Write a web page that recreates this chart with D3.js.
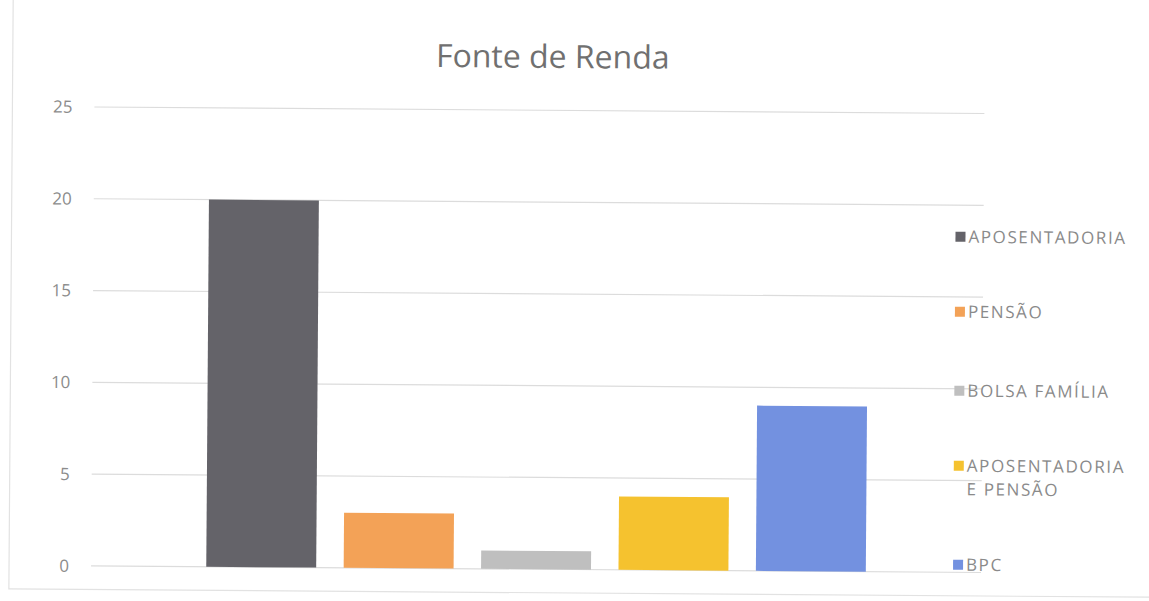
<!DOCTYPE html>
<html>
<head>
<meta charset="utf-8">
<script src="https://cdn.jsdelivr.net/npm/d3@7"></script>
<style>
  html, body { margin: 0; padding: 0; background: #ffffff; }
  svg { display: block; }
  text { font-family: "Open Sans", "Noto Sans", sans-serif; }
</style>
</head>
<body>
<svg id="chart" width="1149" height="601"></svg>
<script>
// Income sources and number of respondents per source
const categories = ["APOSENTADORIA", "PENSÃO", "BOLSA FAMÍLIA", "APOSENTADORIA E PENSÃO", "BPC"];
const values = [20, 3, 1, 4, 9];
const legendLines = [["APOSENTADORIA"], ["PENSÃO"], ["BOLSA FAMÍLIA"], ["APOSENTADORIA", "E PENSÃO"], ["BPC"]];
const yTicks = [0, 5, 10, 15, 20, 25];
const colors = ["#646369", "#f3a257", "#bfbfbf", "#f5c22f", "#7391e0"];
const title = "Fonte de Renda";

const svg = d3.select("#chart");
const W = 1149, H = 601;

// whole chart is turned a hair clockwise, as printed
const root = svg.append("g").attr("transform", `rotate(0.42 ${W / 2} ${H / 2})`);

// chart area outline
root.append("rect")
  .attr("x", 11).attr("y", -20)
  .attr("width", W + 20).attr("height", 613)
  .attr("fill", "none").attr("stroke", "#e2e2e2").attr("stroke-width", 1.2);

const plot = { left: 93, right: 983, top: 110.5, bottom: 569.5 };

const y = d3.scaleLinear().domain([0, 25]).range([plot.bottom, plot.top]);

// single category cluster: outer band for the group, inner band for each series
const x0 = d3.scaleBand().domain(["grupo"]).range([plot.left, plot.right]).paddingOuter(0.1477);
const x1 = d3.scaleBand().domain(categories)
  .range([x0("grupo"), x0("grupo") + x0.bandwidth()])
  .paddingInner(0.2).paddingOuter(0.1);

// gridlines
root.append("g")
  .selectAll("line")
  .data(yTicks)
  .join("line")
  .attr("x1", plot.left).attr("x2", plot.right)
  .attr("y1", d => y(d)).attr("y2", d => y(d))
  .attr("stroke", "#dcdcdc").attr("stroke-width", 1.2);

// y axis labels
const yAxis = d3.axisLeft(y).tickValues(yTicks).tickSize(0).tickPadding(0);
const yg = root.append("g").attr("transform", `translate(${plot.left - 22},0)`).call(yAxis);
yg.select(".domain").remove();
yg.selectAll("text")
  .attr("font-size", 17)
  .attr("font-family", "'Open Sans', sans-serif")
  .attr("fill", "#8c8c8c");

// bars
root.append("g")
  .selectAll("rect")
  .data(categories)
  .join("rect")
  .attr("x", d => x1(d))
  .attr("width", x1.bandwidth())
  .attr("y", (d, i) => y(values[i]))
  .attr("height", (d, i) => y(0) - y(values[i]))
  .attr("fill", (d, i) => colors[i]);

// title
root.append("text")
  .attr("x", 551).attr("y", 68)
  .attr("text-anchor", "middle")
  .attr("font-size", 32)
  .attr("fill", "#707070")
  .text(title);

// legend
const legendY = [234, 309, 388, 463, 562];
const lg = root.append("g");
categories.forEach((c, i) => {
  const g = lg.append("g").attr("transform", `translate(955,${legendY[i]})`);
  g.append("rect")
    .attr("x", 0).attr("y", -5).attr("width", 10).attr("height", 10)
    .attr("fill", colors[i]);
  legendLines[i].forEach((line, j) => {
    g.append("text")
      .attr("x", 13).attr("y", j * 23.5)
      .attr("dy", "0.35em")
      .attr("font-size", 17)
      .attr("letter-spacing", 1.6)
      .attr("fill", "#8a8a8a")
      .text(line);
  });
});
</script>
</body>
</html>
